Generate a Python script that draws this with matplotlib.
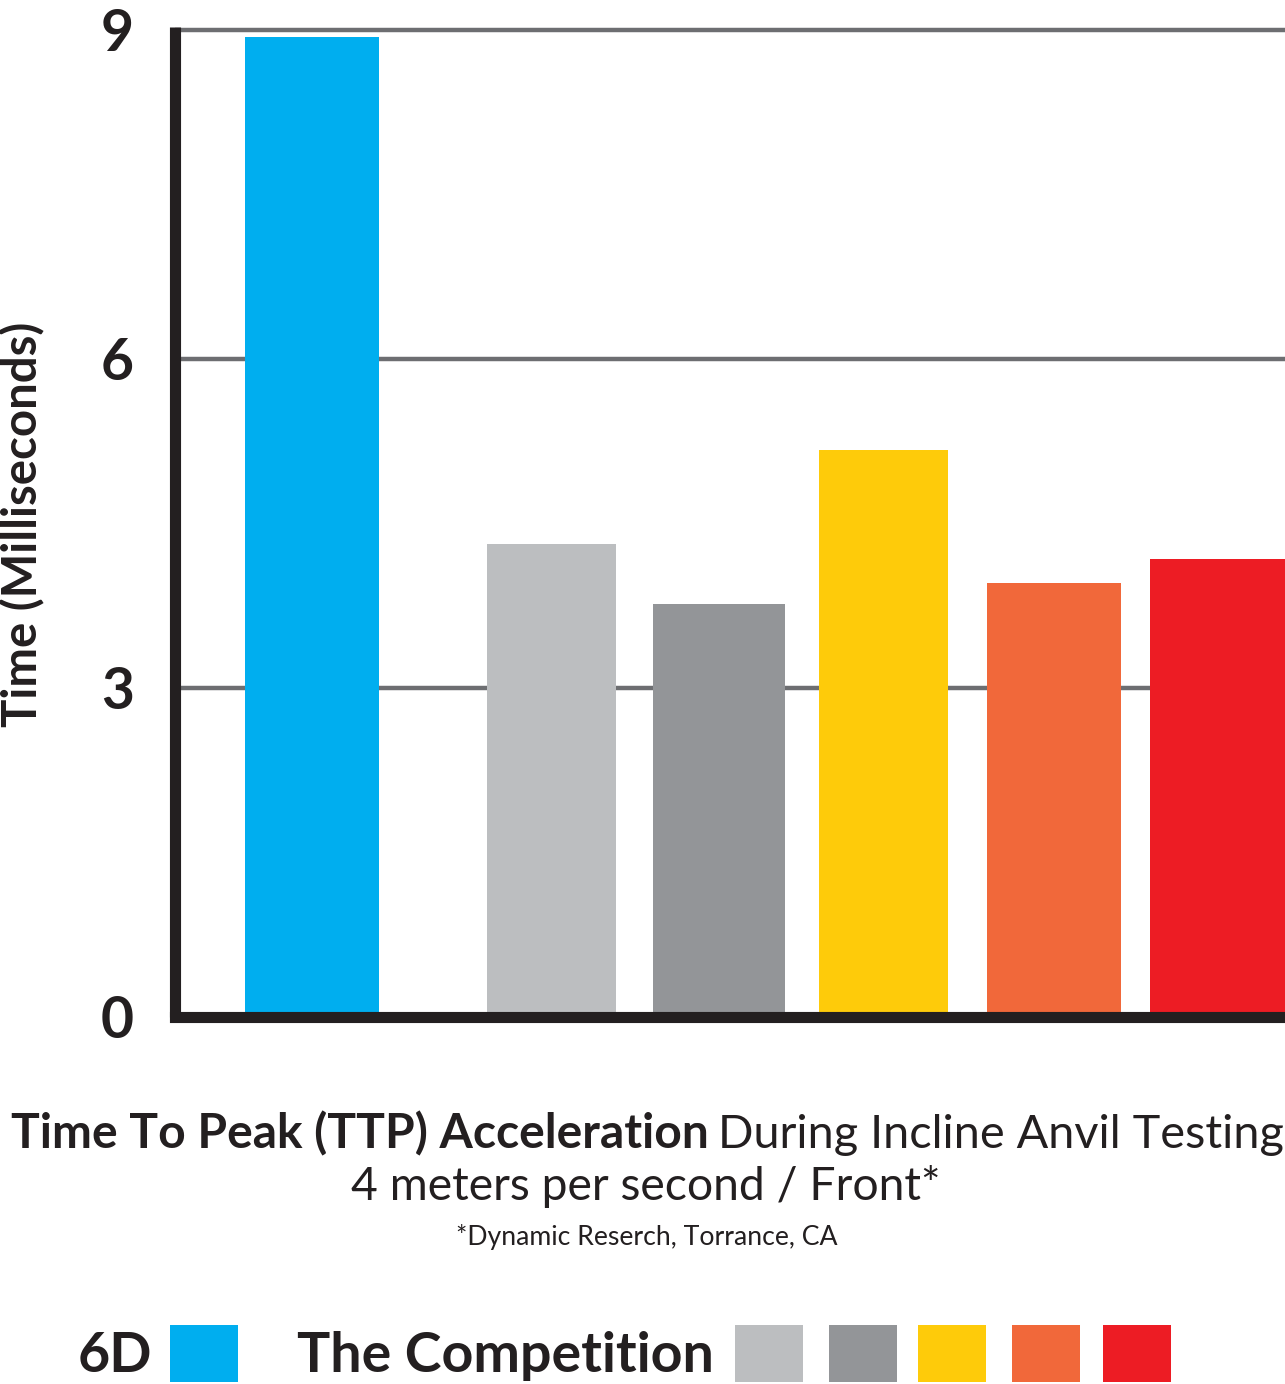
import matplotlib
matplotlib.use("Agg")
import matplotlib.pyplot as plt
from matplotlib.patches import Rectangle

# ---- data ----
categories = ["6D", "Competitor A", "Competitor B", "Competitor C", "Competitor D", "Competitor E"]
ttp_ms = [8.93, 4.31, 3.76, 5.17, 3.95, 4.17]
colors = ["#00AEEF", "#BCBEC0", "#939598", "#FECB0A", "#F1683A", "#ED1C24"]
ytick_values = [0, 3, 6, 9]
ytick_labels = ["0", "3", "6", "9"]

# ---- layout (pixel based) ----
W, H = 1285, 1384
DPI = 100
TXT = "#231F20"
FONT = "Lato"

bar_centers = [1.365, 3.76, 5.435, 7.08, 8.785, 10.42]
bar_widths = [1.34, 1.29, 1.32, 1.29, 1.34, 1.35]

fig = plt.figure(figsize=(W / DPI, H / DPI), dpi=DPI)

def fx(x):
    return x / W

def fy(y):
    return 1 - y / H

ax_left, ax_right, ax_top, ax_bottom = 175.5, 1285, 27, 1016.5
ax = fig.add_axes([fx(ax_left), fy(ax_bottom), (ax_right - ax_left) / W, (ax_bottom - ax_top) / H])
ax.set_xlim(0, (ax_right - ax_left) / 100)
ax.set_ylim(0, 9.025)

for v in ytick_values[1:]:
    ax.axhline(v, color="#6D6E71", lw=3.2, zorder=1)

ax.bar(bar_centers, ttp_ms, width=bar_widths, color=colors, zorder=2)

for s in ["top", "right"]:
    ax.spines[s].set_visible(False)
for s in ["left", "bottom"]:
    ax.spines[s].set_linewidth(8)
    ax.spines[s].set_color(TXT)
    ax.spines[s].set_zorder(5)
ax.spines["left"].set_capstyle("butt")
ax.spines["bottom"].set_capstyle("projecting")

ax.set_xticks([])
ax.set_yticks(ytick_values)
ax.set_yticklabels(ytick_labels, fontsize=41, fontfamily=FONT, fontweight="bold", color=TXT)
ax.tick_params(axis="y", length=0, pad=30)

fig.text(fx(23), fy(524), "Time (Milliseconds)", rotation=90, ha="center", va="center",
         fontsize=34, fontfamily=FONT, fontweight="bold", color=TXT)

# title lines
fig.text(fx(709), fy(1148), "Time To Peak (TTP) Acceleration", ha="right", va="baseline",
         fontsize=34.6, fontfamily=FONT, fontweight="bold", color=TXT)
fig.text(fx(718), fy(1148), "During Incline Anvil Testing", ha="left", va="baseline",
         fontsize=33.7, fontfamily=FONT, fontweight="normal", color=TXT)
fig.text(fx(646), fy(1200), "4 meters per second / Front*", ha="center", va="baseline",
         fontsize=33.3, fontfamily=FONT, color=TXT)
fig.text(fx(647), fy(1245), "*Dynamic Reserch, Torrance, CA", ha="center", va="baseline",
         fontsize=19.2, fontfamily=FONT, color=TXT)

# legend row
fig.text(fx(152), fy(1372), "6D", ha="right", va="baseline",
         fontsize=40, fontfamily=FONT, fontweight="bold", color=TXT)
fig.text(fx(297), fy(1372), "The Competition", ha="left", va="baseline",
         fontsize=40, fontfamily=FONT, fontweight="bold", color=TXT)
legend_x = [170, 735, 829, 918, 1012, 1103]
for lx, c in zip(legend_x, colors):
    fig.patches.append(Rectangle((fx(lx), fy(1382)), 68 / W, 57 / H, transform=fig.transFigure,
                                 facecolor=c, edgecolor="none"))

fig.savefig("out.png", dpi=DPI)
